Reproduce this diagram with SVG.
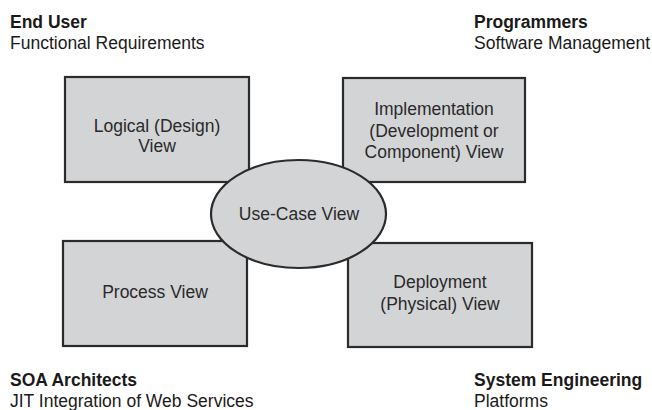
<svg xmlns="http://www.w3.org/2000/svg" width="652" height="410" viewBox="0 0 652 410">
<style>
.box{fill:#d3d4d6;stroke:#2b2b2b;stroke-width:2.2}
.t{font-family:"Liberation Sans",Arial,sans-serif;font-size:17.5px;fill:#2a2a2a;text-anchor:middle}
.h{font-family:"Liberation Sans",Arial,sans-serif;font-size:17.5px;fill:#1a1a1a;font-weight:bold}
.s{font-family:"Liberation Sans",Arial,sans-serif;font-size:17.5px;fill:#1a1a1a}
</style>
<rect width="652" height="410" fill="#fff"/>
<g id="logical"><rect class="box" x="65" y="77" width="184" height="105"/><text class="t" x="157" y="132">Logical (Design)</text><text class="t" x="157" y="152">View</text></g>
<g id="implementation"><rect class="box" x="343" y="78" width="182" height="104"/><text class="t" x="434" y="115">Implementation</text><text class="t" x="434" y="137">(Development or</text><text class="t" x="434" y="158">Component) View</text></g>
<g id="process"><rect class="box" x="63" y="241" width="184" height="105"/><text class="t" x="155" y="298">Process View</text></g>
<g id="deployment"><rect class="box" x="348" y="243" width="184" height="104"/><text class="t" x="440" y="288">Deployment</text><text class="t" x="440" y="310">(Physical) View</text></g>
<g id="usecase"><ellipse class="box" cx="298.5" cy="214" rx="87.5" ry="54"/><text class="t" x="299" y="220">Use-Case View</text></g>
<g id="connectors"></g>
<g id="labels">
<text class="h" x="10" y="28">End User</text><text class="s" x="10" y="49">Functional Requirements</text>
<text class="h" x="474" y="28">Programmers</text><text class="s" x="474" y="49">Software Management</text>
<text class="h" x="10" y="386">SOA Architects</text><text class="s" x="10" y="407">JIT Integration of Web Services</text>
<text class="h" x="474" y="386">System Engineering</text><text class="s" x="474" y="407">Platforms</text>
</g>
</svg>
